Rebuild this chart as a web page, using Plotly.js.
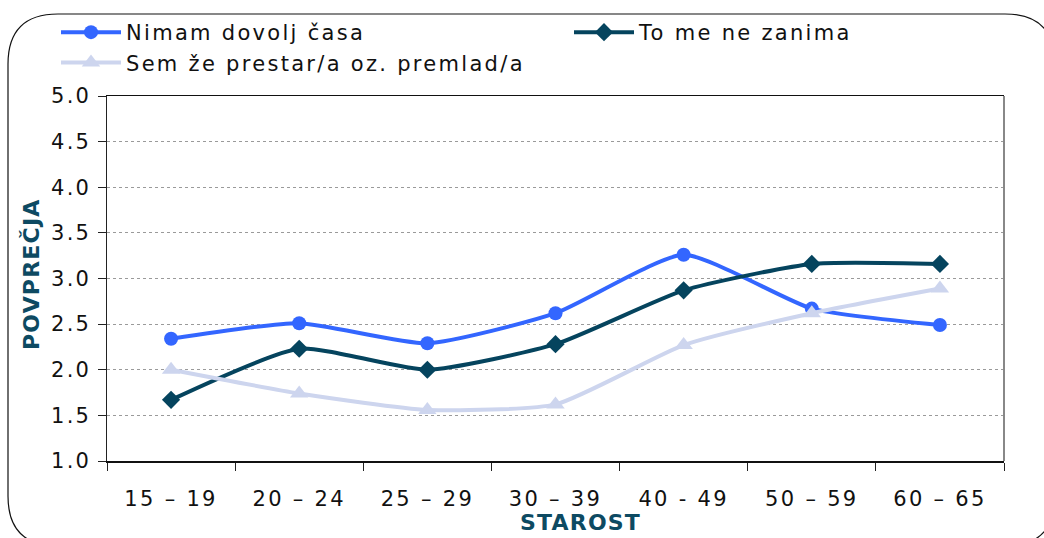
<!DOCTYPE html>
<html>
<head>
<meta charset="utf-8">
<script src="https://cdn.plot.ly/plotly-3.0.1.min.js"></script>
<style>
html,body{margin:0;padding:0;background:#fff;}
#chart{width:1044px;height:538px;}
text{letter-spacing:2.3px;}
text.annotation-text{letter-spacing:1.2px;}
</style>
</head>
<body>
<div id="chart"></div>
<script>
// Data
const categories = ['15 – 19', '20 – 24', '25 – 29', '30 – 39', '40 - 49', '50 – 59', '60 – 65'];
const nimamDovoljCasa = [2.34, 2.51, 2.29, 2.62, 3.26, 2.67, 2.49];
const toMeNeZanima = [1.67, 2.23, 2.00, 2.28, 2.87, 3.16, 3.16];
const semPrestarPremlad = [2.00, 1.74, 1.56, 1.62, 2.27, 2.62, 2.89];
const seriesNames = ['Nimam dovolj časa', 'To me ne zanima', 'Sem že prestar/a oz. premlad/a'];
const yTickVals = [1.0, 1.5, 2.0, 2.5, 3.0, 3.5, 4.0, 4.5, 5.0];
const xTitle = 'STAROST';
const yTitle = 'POVPREČJA';

const FONT = 'DejaVu Sans, Verdana, sans-serif';
const TITLE_COLOR = '#0d4a62';

function series(name, y, color, symbol, size, legendId) {
  return {
    type: 'scatter', mode: 'lines+markers', name: name,
    x: categories, y: y, legend: legendId,
    line: {color: color, width: 4, shape: 'spline', smoothing: 0.55},
    marker: {color: color, symbol: symbol, size: size}
  };
}

const data = [
  series(seriesNames[0], nimamDovoljCasa, '#3366ff', 'circle', 14, 'legend'),
  series(seriesNames[1], toMeNeZanima, '#05445e', 'diamond', 14, 'legend2'),
  series(seriesNames[2], semPrestarPremlad, '#cdd5ee', 'triangle-up', 16, 'legend')
];

// plot area: x 107..1004, y 96..461
const L = 107, R = 1004, T = 96, B = 461;
const W = R - L, H = B - T;
function px(x) { return (x - L) / W; }
function py(y) { return (B - y) / H; }

// rounded frame around the whole chart
const fx0 = 8, fy0 = 14, fx1 = 1055, fy1 = 546, rad = 50;
const framePath =
  'M' + px(fx0 + rad) + ',' + py(fy0) +
  ' L' + px(fx1 - rad) + ',' + py(fy0) +
  ' Q' + px(fx1) + ',' + py(fy0) + ' ' + px(fx1) + ',' + py(fy0 + rad) +
  ' L' + px(fx1) + ',' + py(fy1 - rad) +
  ' Q' + px(fx1) + ',' + py(fy1) + ' ' + px(fx1 - rad) + ',' + py(fy1) +
  ' L' + px(fx0 + rad) + ',' + py(fy1) +
  ' Q' + px(fx0) + ',' + py(fy1) + ' ' + px(fx0) + ',' + py(fy1 - rad) +
  ' L' + px(fx0) + ',' + py(fy0 + rad) +
  ' Q' + px(fx0) + ',' + py(fy0) + ' ' + px(fx0 + rad) + ',' + py(fy0) + ' Z';

const legendFont = {family: FONT, size: 21, color: '#111'};
function legendBox(xPix) {
  return {
    orientation: 'v', x: px(xPix), xanchor: 'left', y: py(12), yanchor: 'top',
    itemwidth: 60, font: legendFont,
    bgcolor: 'rgba(0,0,0,0)', borderwidth: 0, tracegroupgap: 0
  };
}

const layout = {
  width: 1044, height: 538,
  margin: {l: L, r: 1044 - R, t: T, b: 538 - B, pad: 0},
  paper_bgcolor: '#ffffff', plot_bgcolor: '#ffffff',
  font: {family: FONT, size: 21, color: '#111'},
  showlegend: true,
  legend: legendBox(56),
  legend2: legendBox(569),
  xaxis: {
    type: 'category', range: [-0.5, 6.5], tickson: 'boundaries',
    ticks: 'outside', ticklen: 8, tickwidth: 1, tickcolor: '#222',
    showline: true, linecolor: '#111', linewidth: 1.5, mirror: true,
    showgrid: false, zeroline: false,
    tickfont: {family: FONT, size: 21, color: '#111'},
    ticklabelstandoff: 18,
    automargin: false
  },
  yaxis: {
    range: [1, 5], tickvals: yTickVals, tickformat: '.1f',
    ticks: 'outside', ticklen: 8, tickwidth: 1, tickcolor: '#222',
    showline: true, linecolor: '#222', linewidth: 1.5, mirror: false,
    showgrid: true, gridcolor: '#9a9a9a', gridwidth: 1, griddash: 'dot',
    zeroline: false,
    tickfont: {family: FONT, size: 21, color: '#111'},
    ticklabelstandoff: 2,
    automargin: false
  },
  annotations: [
    {text: '<b>' + xTitle + '</b>', xref: 'paper', yref: 'paper', x: px(580), y: py(522),
     xanchor: 'center', yanchor: 'middle', showarrow: false,
     font: {family: FONT, size: 22, color: TITLE_COLOR}},
    {text: '<b>' + yTitle + '</b>', xref: 'paper', yref: 'paper', x: px(31), y: py(274),
     xanchor: 'center', yanchor: 'middle', showarrow: false, textangle: -90,
     font: {family: FONT, size: 22, color: TITLE_COLOR}}
  ],
  shapes: [
    {type: 'line', xref: 'paper', yref: 'paper', x0: 1, x1: 1, y0: 0, y1: 1,
     line: {color: '#888', width: 2}},
    {type: 'path', xref: 'paper', yref: 'paper', path: framePath,
     line: {color: '#111', width: 1.2}, fillcolor: 'rgba(0,0,0,0)', layer: 'below'}
  ]
};

Plotly.newPlot('chart', data, layout, {displayModeBar: false, staticPlot: true});
</script>
</body>
</html>
